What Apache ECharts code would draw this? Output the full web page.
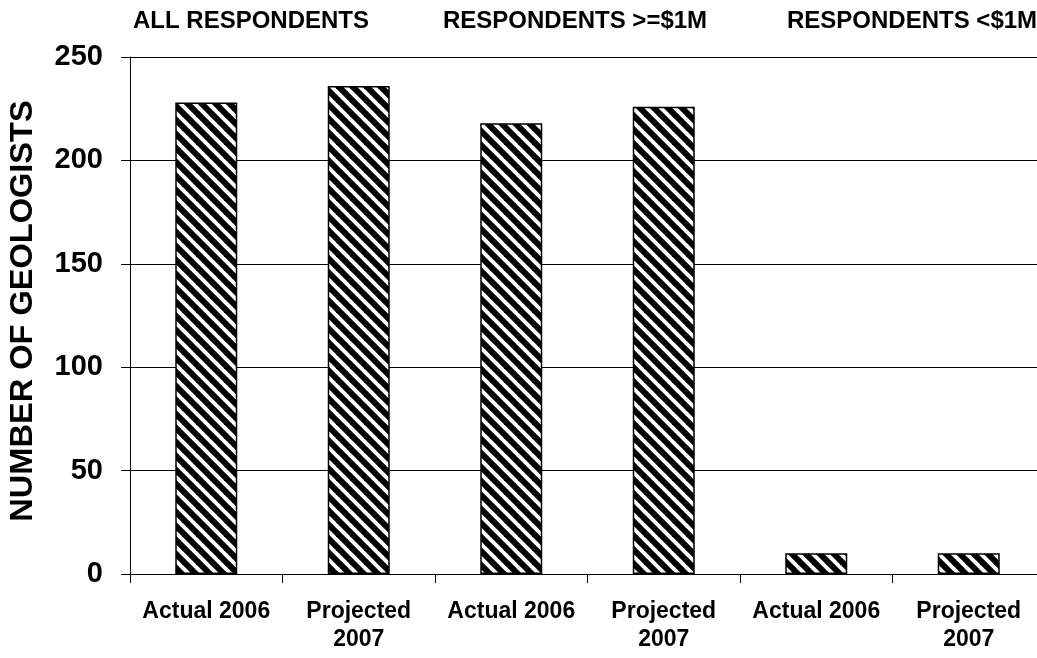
<!DOCTYPE html>
<html>
<head>
<meta charset="utf-8">
<title>Number of Geologists</title>
<script src="https://cdn.jsdelivr.net/npm/echarts@6/dist/echarts.min.js"></script>
<style>
  html, body { margin: 0; padding: 0; background: #fff; }
  #chart { width: 1037px; height: 658px; }
</style>
</head>
<body>
<div id="chart"></div>
<script>
// Categories along the x axis (two per respondent group)
const categories = ['Actual 2006', 'Projected\n2007', 'Actual 2006', 'Projected\n2007', 'Actual 2006', 'Projected\n2007'];
// Number of geologists per category
const geologists = [228, 236, 218, 226, 10, 10];
// Respondent group headings shown above the plot
const groupLabels = ['ALL RESPONDENTS', 'RESPONDENTS >=$1M', 'RESPONDENTS <$1M'];
const yAxisTitle = 'NUMBER OF GEOLOGISTS';

const FONT = "'Liberation Sans', Arial, sans-serif";

// Diagonal hatch fill: black stripes running from top-left to bottom-right
function makeHatch(size, width) {
  const c = document.createElement('canvas');
  c.width = size; c.height = size;
  const ctx = c.getContext('2d');
  ctx.fillStyle = '#fff';
  ctx.fillRect(0, 0, size, size);
  ctx.strokeStyle = '#000';
  ctx.lineWidth = width;
  ctx.lineCap = 'square';
  for (const k of [-size, 0, size]) {
    ctx.beginPath();
    ctx.moveTo(k - 1, -1);
    ctx.lineTo(k + size + 1, size + 1);
    ctx.stroke();
  }
  return c;
}

const chart = echarts.init(document.getElementById('chart'), null, { renderer: 'canvas' });

// left edges of the group headings
const groupX = [133, 443, 787];

chart.setOption({
  animation: false,
  backgroundColor: '#fff',
  grid: { left: 130, top: 57, bottom: 84, right: -8, outerBoundsMode: 'none' },
  xAxis: {
    type: 'category',
    data: categories,
    axisLine: { show: true, lineStyle: { color: '#000', width: 1 } },
    axisTick: { show: true, length: 9, lineStyle: { color: '#000' } },
    axisLabel: {
      color: '#000', fontFamily: FONT, fontWeight: 'bold', fontSize: 23,
      lineHeight: 28, margin: 24, interval: 0
    },
    splitLine: { show: false }
  },
  yAxis: {
    type: 'value',
    min: 0, max: 250, interval: 50,
    axisLine: { show: true, lineStyle: { color: '#000', width: 1 } },
    axisTick: { show: true, length: 9, lineStyle: { color: '#000' } },
    axisLabel: {
      color: '#000', fontFamily: FONT, fontWeight: 'bold', fontSize: 29, margin: 27
    },
    splitLine: { show: true, lineStyle: { color: '#000', width: 1 } }
  },
  series: [{
    type: 'bar',
    data: geologists,
    barWidth: 62,
    itemStyle: {
      color: { image: makeHatch(14, 6), repeat: 'repeat' },
      borderColor: '#000',
      borderWidth: 1.5
    }
  }],
  graphic: [
    {
      type: 'text',
      x: 23, y: 311,
      rotation: Math.PI / 2,
      scaleX: 1.05,
      style: {
        text: yAxisTitle,
        fill: '#000',
        font: `bold 31px ${FONT}`,
        align: 'center',
        verticalAlign: 'middle'
      }
    },
    ...groupLabels.map((t, i) => ({
      type: 'text',
      x: groupX[i], y: 21,
      style: {
        text: t,
        fill: '#000',
        font: `bold 24px ${FONT}`,
        align: 'left',
        verticalAlign: 'middle'
      }
    }))
  ]
});
</script>
</body>
</html>
